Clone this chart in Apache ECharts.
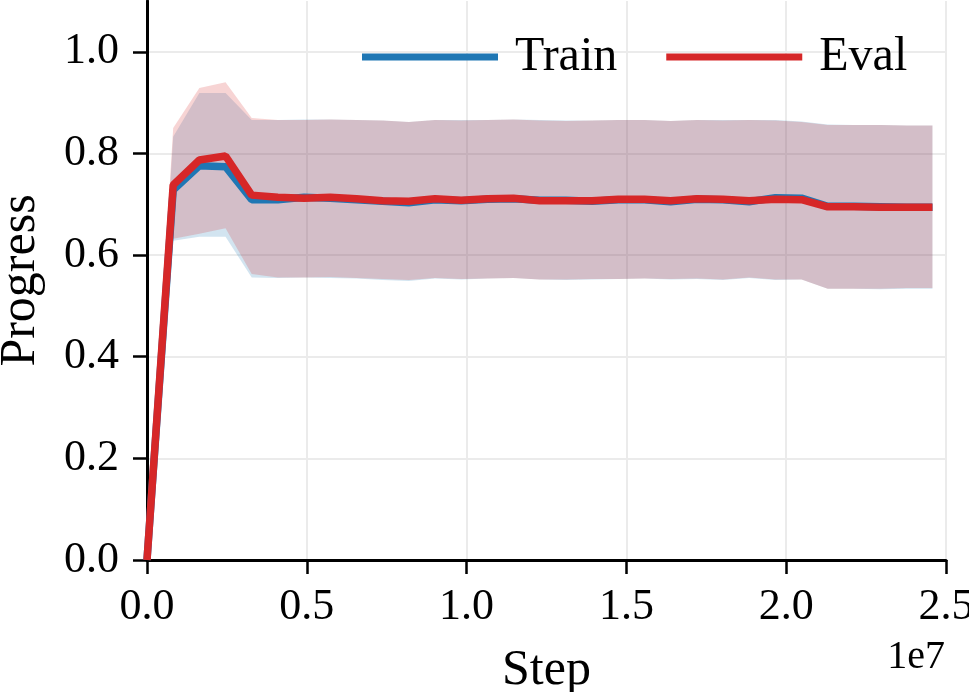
<!DOCTYPE html>
<html>
<head>
<meta charset="utf-8">
<script src="https://cdn.jsdelivr.net/npm/echarts@6/dist/echarts.min.js"></script>
<style>
  html, body { margin: 0; padding: 0; background: #fff; }
  #chart { width: 969px; height: 692px; }
</style>
</head>
<body>
<div id="chart"></div>
<script>
// training steps (x)
const steps = [
  0, 819200, 1638400, 2457600, 3276800, 4096000, 4915200, 5734400, 6553600, 7372800,
  8192000, 9011200, 9830400, 10649600, 11468800, 12288000, 13107200, 13926400, 14745600, 15564800,
  16384000, 17203200, 18022400, 18841600, 19660800, 20480000, 21299200, 22118400, 22937600, 23756800,
  24576000
]
// mean progress
const trainMean = [
  0.0, 0.728, 0.776, 0.774, 0.709, 0.709, 0.714, 0.712, 0.709, 0.706,
  0.703, 0.709, 0.707, 0.710, 0.711, 0.708, 0.708, 0.706, 0.709, 0.709,
  0.705, 0.710, 0.709, 0.705, 0.713, 0.712, 0.696, 0.696, 0.695, 0.694,
  0.694
]
const evalMean = [
  0.0, 0.738, 0.787, 0.795, 0.718, 0.714, 0.712, 0.714, 0.711, 0.707,
  0.706, 0.711, 0.708, 0.711, 0.712, 0.707, 0.707, 0.707, 0.710, 0.710,
  0.707, 0.711, 0.710, 0.707, 0.710, 0.709, 0.695, 0.695, 0.694, 0.694,
  0.694
]
// std bands (lower / upper)
const trainLow = [
  0.0, 0.628, 0.636, 0.636, 0.556, 0.555, 0.556, 0.555, 0.554, 0.551,
  0.549, 0.554, 0.552, 0.554, 0.555, 0.552, 0.551, 0.552, 0.553, 0.554,
  0.552, 0.553, 0.551, 0.555, 0.551, 0.552, 0.534, 0.534, 0.533, 0.534,
  0.534
]
const trainHigh = [
  0.0, 0.833, 0.919, 0.919, 0.866, 0.866, 0.867, 0.867, 0.866, 0.865,
  0.862, 0.866, 0.866, 0.866, 0.867, 0.866, 0.865, 0.865, 0.866, 0.866,
  0.864, 0.866, 0.866, 0.866, 0.866, 0.863, 0.857, 0.856, 0.856, 0.855,
  0.855
]
const evalLow = [
  0.0, 0.632, 0.642, 0.653, 0.563, 0.556, 0.556, 0.557, 0.555, 0.553,
  0.551, 0.555, 0.553, 0.554, 0.555, 0.552, 0.552, 0.553, 0.553, 0.554,
  0.553, 0.554, 0.552, 0.556, 0.552, 0.552, 0.534, 0.534, 0.534, 0.535,
  0.535
]
const evalHigh = [
  0.0, 0.850, 0.929, 0.940, 0.870, 0.866, 0.866, 0.867, 0.866, 0.865,
  0.862, 0.866, 0.865, 0.866, 0.867, 0.865, 0.864, 0.865, 0.866, 0.866,
  0.864, 0.866, 0.865, 0.866, 0.865, 0.862, 0.856, 0.856, 0.856, 0.855,
  0.855
]
const xTicks = [0, 5000000, 10000000, 15000000, 20000000, 25000000]
const yTicks = [0, 0.2, 0.4, 0.6, 0.8, 1.0]

const BLUE = '#1f77b4'
const RED = '#d62728'
const FONT = 'Liberation Serif'

const pairs = (ys) => steps.map((s, i) => [s, ys[i]])

// shaded band between lo and hi, drawn as one polygon through the axes
const band = (name, lo, hi, color) => ({
  name: name,
  type: 'custom',
  data: steps.map((s, i) => [s, lo[i], hi[i]]),
  encode: { x: 0, y: [1, 2] },
  silent: true,
  z: 1,
  renderItem: (params, api) => {
    if (params.dataIndex !== 0) return
    const pts = []
    for (let i = 0; i < steps.length; i++) pts.push(api.coord([steps[i], hi[i]]))
    for (let i = steps.length - 1; i >= 0; i--) pts.push(api.coord([steps[i], lo[i]]))
    return {
      type: 'polygon',
      shape: { points: pts },
      style: { fill: color, opacity: 0.2 }
    }
  }
})

const myChart = echarts.init(document.getElementById('chart'))

const options = {
  animation: false,
  backgroundColor: '#fff',
  grid: { left: 147, right: 23, top: 1, bottom: 132, containLabel: false, outerBoundsMode: 'none' },
  legend: {
    data: ['Train', 'Eval'],
    left: 357,
    top: 28,
    icon: 'rect',
    itemWidth: 136,
    itemHeight: 7,
    itemGap: 49,
    textStyle: { fontFamily: FONT, fontSize: 48, color: '#000', padding: [0, 0, 0, 12] }
  },
  xAxis: {
    type: 'value',
    min: 0,
    max: 25000000,
    interval: 5000000,
    name: 'Step',
    nameLocation: 'middle',
    nameGap: 86,
    nameTextStyle: { fontFamily: FONT, fontSize: 50, color: '#000' },
    axisLine: { show: true, onZero: false, lineStyle: { color: '#000', width: 3 } },
    axisTick: { show: true, length: 14, lineStyle: { color: '#000', width: 2.5 } },
    axisLabel: {
      customValues: xTicks,
      margin: 25,
      fontFamily: FONT,
      fontSize: 44,
      color: '#000',
      formatter: (v) => (v / 1e7).toFixed(1)
    },
    splitLine: { show: true, lineStyle: { color: '#ebebeb', width: 2 } }
  },
  yAxis: {
    type: 'value',
    min: 0,
    max: 1.1,
    interval: 0.2,
    name: 'Progress',
    nameLocation: 'middle',
    nameGap: 101,
    nameTextStyle: { fontFamily: FONT, fontSize: 50, color: '#000' },
    axisLine: { show: true, onZero: false, lineStyle: { color: '#000', width: 3 } },
    axisTick: { show: true, length: 14, customValues: yTicks, lineStyle: { color: '#000', width: 2.5 } },
    axisLabel: {
      customValues: yTicks,
      margin: 28,
      fontFamily: FONT,
      fontSize: 44,
      color: '#000',
      formatter: (v) => v.toFixed(1)
    },
    splitLine: { show: true, lineStyle: { color: '#ebebeb', width: 2 } }
  },
  graphic: [
    {
      type: 'text',
      right: 24,
      top: 637,
      style: { text: '1e7', fontFamily: FONT, fontSize: 40, fill: '#000' }
    }
  ],
  series: [
    band('trainBand', trainLow, trainHigh, BLUE),
    band('evalBand', evalLow, evalHigh, RED),
    {
      name: 'Train',
      type: 'line',
      data: pairs(trainMean),
      symbol: 'none',
      itemStyle: { color: BLUE },
      lineStyle: { color: BLUE, width: 7.5 },
      z: 3
    },
    {
      name: 'Eval',
      type: 'line',
      data: pairs(evalMean),
      symbol: 'none',
      itemStyle: { color: RED },
      lineStyle: { color: RED, width: 7.5 },
      z: 4
    }
  ]
}
myChart.setOption(options)
</script>
</body>
</html>
